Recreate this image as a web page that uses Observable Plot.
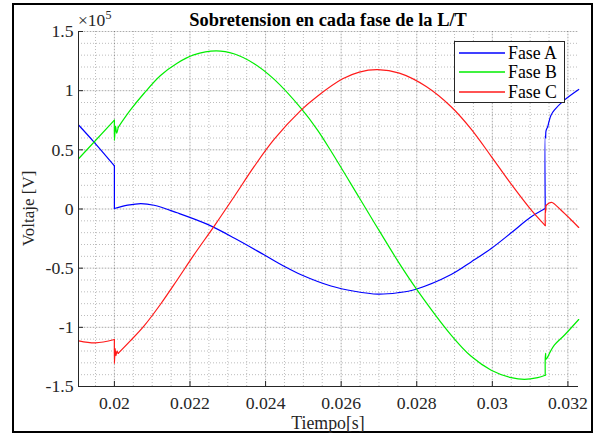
<!DOCTYPE html>
<html>
<head>
<meta charset="utf-8">
<script src="https://cdn.jsdelivr.net/npm/d3@7"></script>
<script src="https://cdn.jsdelivr.net/npm/@observablehq/plot@0.6"></script>
<style>
  body { margin: 0; background: #fff; }
  #wrap { position: relative; width: 597px; height: 434px; overflow: hidden;
          font-family: "Liberation Serif", serif; color: #262626; }
  #chart { position: absolute; left: 0; top: 0; }
  #chart text { font-family: "Liberation Serif", serif !important; font-size: 17.7px; }
  #frame { position: absolute; left: 12px; top: 3px; width: 581px; height: 430px;
           box-sizing: border-box; border: 2px solid #000; pointer-events: none; }
  .abs { position: absolute; white-space: nowrap; line-height: 1; font-family: "Liberation Serif", serif; }
  #title { left: 78px; width: 500px; top: 11.2px; text-align: center; font-weight: bold; font-size: 18.4px; color: #000; }
  #expo { left: 78px; top: 12.2px; font-size: 17.5px; }
  #expo sup { font-size: 12px; position: relative; top: -3px; vertical-align: top; line-height: 1; }
  #xlabel { left: 78px; width: 500px; top: 414.5px; height: 17px; line-height: 17px; text-align: center; font-size: 17.8px; }
  #ylabel { left: -72px; width: 200px; top: 200px; height: 17px; text-align: center; font-size: 17px;
            transform: rotate(-90deg); transform-origin: 100px 8.5px; }
  #legend { position: absolute; left: 454px; top: 41px; width: 111px; height: 62px; box-sizing: border-box;
            border: 1.2px solid #262626; background: #fff; font-family: "Liberation Serif", serif; }
  .row { position: absolute; left: 0; height: 18px; font-size: 17.8px; line-height: 18px; }
  .row svg { position: absolute; left: 4px; top: 0; }
  .row span { position: absolute; left: 53px; top: 0; color: #000; font-family: "Liberation Serif", serif; }
</style>
</head>
<body>
<div id="wrap">
  <div id="chart"></div>
  <div id="frame"></div>
</div>
<script>
// ---- data (voltage in units of 1e5 V, time in s) ----
const xTicks = [0.02, 0.022, 0.024, 0.026, 0.028, 0.03, 0.032];
const yTicks = [-1.5, -1, -0.5, 0, 0.5, 1, 1.5];
const seriesNames = ["Fase A", "Fase B", "Fase C"];
const seriesColors = ["#0000ff", "#00ee00", "#ff1a1a"];

// Fase A: [segment, t, v]
const faseA = [
  [0, 0.019058, 0.708], [0, 0.019455, 0.568], [0, 0.02, 0.365],
  [1, 0.02, 0.365], [1, 0.02, 0.004],
  [2, 0.02, 0.004], [2, 0.02035, 0.032], [2, 0.0207, 0.046], [2, 0.02105, 0.032], [2, 0.02166, -0.032],
  [2, 0.02245, -0.128], [2, 0.02318, -0.247], [2, 0.02397, -0.389], [2, 0.0245, -0.486],
  [2, 0.02494, -0.556], [2, 0.02573, -0.651], [2, 0.02635, -0.695], [2, 0.02697, -0.720],
  [2, 0.0275, -0.708], [2, 0.02798, -0.678], [2, 0.02891, -0.554], [2, 0.02944, -0.447],
  [2, 0.02997, -0.334], [2, 0.0305, -0.201], [2, 0.03102, -0.068], [2, 0.0314, 0.004],
  [3, 0.0314, 0.004], [3, 0.0314, 0.62], [3, 0.03141, 0.60], [3, 0.03142, 0.66], [3, 0.031466, 0.695],
  [4, 0.031466, 0.695], [4, 0.031553, 0.793], [4, 0.03164, 0.835], [4, 0.031905, 0.920], [4, 0.032286, 1.010]
];

// Fase B
const faseB = [
  [0, 0.019058, 0.427], [0, 0.02, 0.751],
  [1, 0.02, 0.751], [1, 0.02, 0.58], [1, 0.02003, 0.70], [1, 0.02006, 0.64], [1, 0.0201, 0.69],
  [2, 0.0201, 0.69], [2, 0.02042, 0.835], [2, 0.02078, 0.976], [2, 0.02122, 1.128], [2, 0.02166, 1.232],
  [2, 0.0221, 1.302], [2, 0.02269, 1.337], [2, 0.02318, 1.310], [2, 0.0237, 1.228],
  [2, 0.02423, 1.095], [2, 0.02494, 0.850], [2, 0.02538, 0.665], [2, 0.02573, 0.490],
  [2, 0.02648, 0.095], [2, 0.02701, -0.185], [2, 0.0275, -0.440], [2, 0.02798, -0.670],
  [2, 0.02891, -1.065], [2, 0.02944, -1.245], [2, 0.02997, -1.362], [2, 0.0305, -1.425],
  [2, 0.03085, -1.440], [2, 0.0312, -1.425], [2, 0.0314, -1.405],
  [3, 0.0314, -1.405], [3, 0.0314, -1.264], [3, 0.03141, -1.22], [3, 0.03142, -1.27], [3, 0.031466, -1.25],
  [4, 0.031466, -1.25], [4, 0.03164, -1.151], [4, 0.031905, -1.067], [4, 0.032286, -0.934]
];

// Fase C
const faseC = [
  [0, 0.019058, -1.114], [0, 0.0195, -1.131], [0, 0.02, -1.103],
  [1, 0.02, -1.103], [1, 0.02, -1.306], [1, 0.02002, -1.18], [1, 0.02004, -1.24], [1, 0.02007, -1.20], [1, 0.0201, -1.22],
  [2, 0.0201, -1.22], [2, 0.02042, -1.115], [2, 0.02078, -0.990], [2, 0.02122, -0.805],
  [2, 0.02166, -0.600], [2, 0.0221, -0.390], [2, 0.02265, -0.140], [2, 0.02318, 0.110],
  [2, 0.0237, 0.360], [2, 0.02423, 0.590], [2, 0.02494, 0.835], [2, 0.02538, 0.955],
  [2, 0.02604, 1.100], [2, 0.02648, 1.157], [2, 0.02697, 1.177], [2, 0.02754, 1.148],
  [2, 0.02825, 1.035], [2, 0.02891, 0.864], [2, 0.02944, 0.675], [2, 0.02997, 0.445],
  [2, 0.0305, 0.210], [2, 0.03102, -0.005], [2, 0.0314, -0.140],
  [3, 0.0314, -0.140], [3, 0.0314, 0.004], [3, 0.03141, -0.03], [3, 0.03142, 0.03],
  [4, 0.03142, 0.03], [4, 0.0315, 0.05], [4, 0.03158, 0.055], [4, 0.03182, -0.01], [4, 0.03205, -0.08], [4, 0.032286, -0.156]
];

const xDomain = [0.01905, 0.03228];
const yDomain = [-1.5, 1.5];
const xMinor = d3.range(0.0195, 0.03225, 0.0005);
const yMinor = d3.range(-1.5, 1.5001, 0.1);

const toRows = (arr) => arr.map(([seg, t, v]) => ({seg, t, v}));
const series = [faseA, faseB, faseC].map(toRows);

const gridColor = "#262626";
const chart = Plot.plot({
  width: 597,
  height: 434,
  marginLeft: 78,
  marginRight: 19,
  marginTop: 31,
  marginBottom: 48,
  x: {domain: xDomain},
  y: {domain: yDomain},
  style: {fontFamily: "'Liberation Serif', serif", fontSize: "17.7px", color: "#262626", background: "transparent", overflow: "visible"},
  marks: [
    Plot.ruleX(xMinor, {stroke: gridColor, strokeOpacity: 0.3, strokeDasharray: "1,2"}),
    Plot.ruleY(yMinor, {stroke: gridColor, strokeOpacity: 0.3, strokeDasharray: "1,2"}),
    Plot.ruleX(xTicks, {stroke: gridColor, strokeOpacity: 0.12}),
    Plot.ruleY(yTicks, {stroke: gridColor, strokeOpacity: 0.12}),
    ...series.map((rows, i) => Plot.line(rows, {x: "t", y: "v", z: "seg", stroke: seriesColors[i], strokeWidth: 1.2, curve: "catmull-rom"})),
    Plot.ruleY([yDomain[0]], {stroke: "#262626", strokeWidth: 1}),
    Plot.ruleX([xDomain[0]], {stroke: "#262626", strokeWidth: 1}),
    Plot.axisX({ticks: xTicks, tickFormat: (d) => String(d), tickSize: -5, tickPadding: 15, label: null, stroke: "#262626", fill: "#262626"}),
    Plot.axisY({ticks: yTicks, tickFormat: (d) => String(d), tickSize: -5, tickPadding: 10, label: null, stroke: "#262626", fill: "#262626"})
  ]
});
document.getElementById("chart").appendChild(chart);

// ---- text and legend overlays ----
const wrap = document.getElementById("wrap");
function addDiv(id, html) {
  const d = document.createElement("div");
  d.id = id; d.className = "abs"; d.innerHTML = html;
  wrap.appendChild(d);
  return d;
}
addDiv("title", "Sobretension en cada fase de la L/T");
addDiv("expo", "&times;10<sup>5</sup>");
addDiv("xlabel", "Tiempo[s]");
addDiv("ylabel", "Voltaje [V]");

const legend = document.createElement("div");
legend.id = "legend";
seriesNames.forEach((name, i) => {
  const row = document.createElement("div");
  row.className = "row";
  row.style.top = (1.5 + i * 19.5) + "px";
  row.style.width = "100%";
  row.innerHTML = `<svg width="46" height="18"><line x1="0" x2="46" y1="9" y2="9" stroke="${seriesColors[i]}" stroke-width="1.3"/></svg><span>${name}</span>`;
  legend.appendChild(row);
});
wrap.appendChild(legend);
</script>
</body>
</html>
